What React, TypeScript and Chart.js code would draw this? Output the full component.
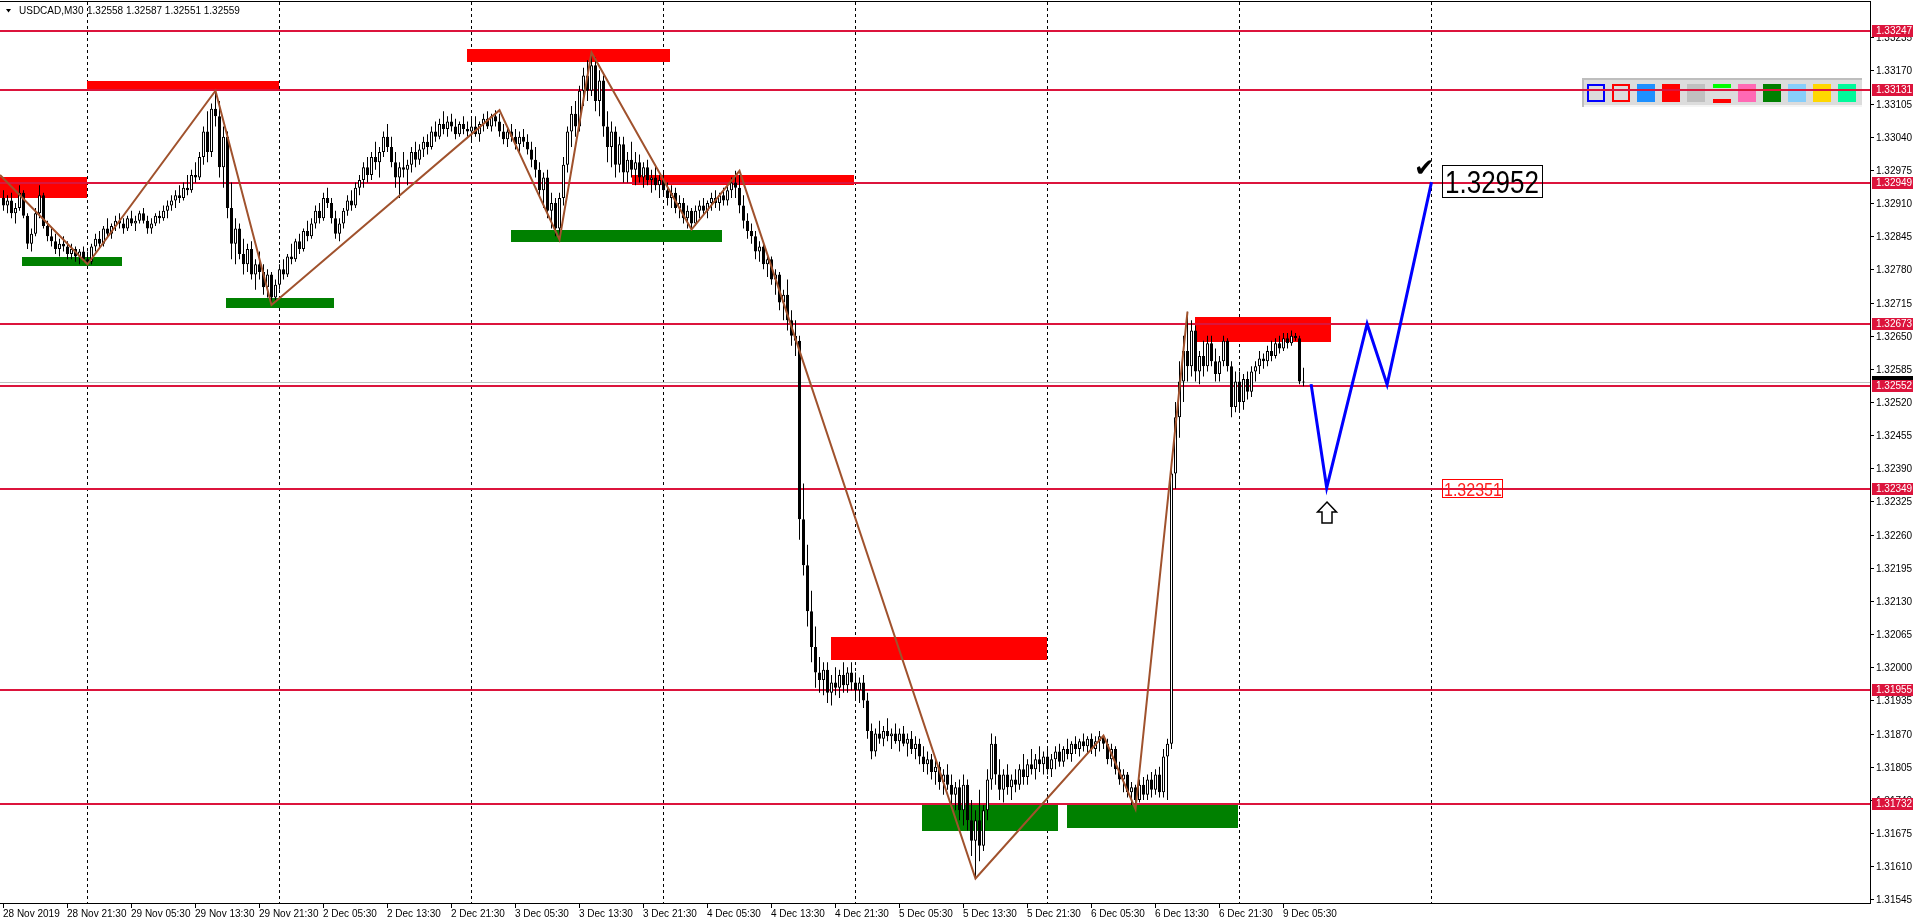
import React, { useEffect, useRef } from 'react';
import { Chart, registerables } from 'chart.js';
Chart.register(...registerables);

type OHLC = [number, number, number, number];

// [open, high, low, close] per M30 bar
const bars28Nov: OHLC[] = [
  [1.32920, 1.32935, 1.32895, 1.32905], [1.32905, 1.32925, 1.32890, 1.32915], [1.32915, 1.32930, 1.32880, 1.32890],
  [1.32890, 1.32910, 1.32870, 1.32900], [1.32900, 1.32945, 1.32895, 1.32930], [1.32930, 1.32935, 1.32880, 1.32885],
  [1.32885, 1.32890, 1.32820, 1.32830], [1.32830, 1.32860, 1.32815, 1.32850], [1.32850, 1.32900, 1.32845, 1.32890],
  [1.32890, 1.32945, 1.32880, 1.32925], [1.32925, 1.32930, 1.32860, 1.32865], [1.32865, 1.32875, 1.32835, 1.32845],
  [1.32845, 1.32860, 1.32825, 1.32835], [1.32835, 1.32850, 1.32810, 1.32820], [1.32820, 1.32840, 1.32805, 1.32830],
  [1.32830, 1.32845, 1.32815, 1.32825], [1.32825, 1.32835, 1.32800, 1.32810], [1.32810, 1.32830, 1.32800, 1.32820],
  [1.32820, 1.32825, 1.32795, 1.32805], [1.32805, 1.32820, 1.32790, 1.32815], [1.32815, 1.32825, 1.32795, 1.32800],
];
const bars29Nov: OHLC[] = [
  [1.32800, 1.32815, 1.32790, 1.32795], [1.32795, 1.32830, 1.32790, 1.32825], [1.32825, 1.32850, 1.32815, 1.32840],
  [1.32840, 1.32855, 1.32820, 1.32830], [1.32830, 1.32865, 1.32825, 1.32860], [1.32860, 1.32880, 1.32845, 1.32850],
  [1.32850, 1.32870, 1.32840, 1.32865], [1.32865, 1.32885, 1.32855, 1.32875], [1.32875, 1.32890, 1.32860, 1.32870],
  [1.32870, 1.32880, 1.32850, 1.32860], [1.32860, 1.32885, 1.32855, 1.32880], [1.32880, 1.32895, 1.32865, 1.32870],
  [1.32870, 1.32885, 1.32855, 1.32875], [1.32875, 1.32895, 1.32870, 1.32890], [1.32890, 1.32900, 1.32870, 1.32875],
  [1.32875, 1.32885, 1.32850, 1.32860], [1.32860, 1.32880, 1.32850, 1.32870], [1.32870, 1.32890, 1.32865, 1.32885],
  [1.32885, 1.32895, 1.32870, 1.32880], [1.32880, 1.32905, 1.32875, 1.32895], [1.32895, 1.32915, 1.32880, 1.32905],
  [1.32905, 1.32925, 1.32895, 1.32915], [1.32915, 1.32935, 1.32900, 1.32925], [1.32925, 1.32945, 1.32910, 1.32920],
  [1.32920, 1.32950, 1.32915, 1.32940], [1.32940, 1.32965, 1.32925, 1.32935], [1.32935, 1.32975, 1.32930, 1.32965],
  [1.32965, 1.32990, 1.32950, 1.32960], [1.32960, 1.33010, 1.32955, 1.33000], [1.33000, 1.33060, 1.32985, 1.33050],
  [1.33050, 1.33090, 1.32990, 1.33010], [1.33010, 1.33105, 1.33000, 1.33095], [1.33095, 1.33130, 1.33060, 1.33080],
  [1.33080, 1.33110, 1.32960, 1.32980], [1.32980, 1.33060, 1.32940, 1.33040], [1.33040, 1.33050, 1.32880, 1.32900],
  [1.32900, 1.32950, 1.32800, 1.32830], [1.32830, 1.32880, 1.32790, 1.32860], [1.32860, 1.32870, 1.32800, 1.32810],
  [1.32810, 1.32840, 1.32770, 1.32790], [1.32790, 1.32830, 1.32775, 1.32820], [1.32820, 1.32835, 1.32760, 1.32770],
  [1.32770, 1.32800, 1.32740, 1.32790], [1.32790, 1.32815, 1.32760, 1.32775], [1.32775, 1.32790, 1.32730, 1.32745],
  [1.32745, 1.32780, 1.32725, 1.32770], [1.32770, 1.32775, 1.32710, 1.32725], [1.32725, 1.32760, 1.32715, 1.32750],
];
const bars2Dec: OHLC[] = [
  [1.32750, 1.32790, 1.32740, 1.32780], [1.32780, 1.32800, 1.32760, 1.32770], [1.32770, 1.32810, 1.32765, 1.32805],
  [1.32805, 1.32830, 1.32790, 1.32800], [1.32800, 1.32840, 1.32795, 1.32835], [1.32835, 1.32850, 1.32810, 1.32820],
  [1.32820, 1.32860, 1.32815, 1.32855], [1.32855, 1.32875, 1.32835, 1.32845], [1.32845, 1.32880, 1.32840, 1.32870],
  [1.32870, 1.32905, 1.32860, 1.32895], [1.32895, 1.32910, 1.32870, 1.32880], [1.32880, 1.32930, 1.32875, 1.32920],
  [1.32920, 1.32940, 1.32900, 1.32910], [1.32910, 1.32920, 1.32870, 1.32880], [1.32880, 1.32895, 1.32840, 1.32850],
  [1.32850, 1.32880, 1.32835, 1.32870], [1.32870, 1.32900, 1.32860, 1.32895], [1.32895, 1.32925, 1.32885, 1.32915],
  [1.32915, 1.32935, 1.32895, 1.32905], [1.32905, 1.32950, 1.32900, 1.32940], [1.32940, 1.32965, 1.32925, 1.32955],
  [1.32955, 1.32990, 1.32940, 1.32980], [1.32980, 1.33000, 1.32950, 1.32965], [1.32965, 1.33010, 1.32955, 1.33000],
  [1.33000, 1.33030, 1.32975, 1.32990], [1.32990, 1.33020, 1.32960, 1.33010], [1.33010, 1.33050, 1.33000, 1.33040],
  [1.33040, 1.33065, 1.33010, 1.33020], [1.33020, 1.33040, 1.32980, 1.32990], [1.32990, 1.33010, 1.32940, 1.32960],
  [1.32960, 1.32990, 1.32920, 1.32980], [1.32980, 1.33010, 1.32960, 1.32975], [1.32975, 1.32995, 1.32945, 1.32985],
  [1.32985, 1.33020, 1.32970, 1.33010], [1.33010, 1.33030, 1.32980, 1.32995], [1.32995, 1.33025, 1.32985, 1.33015],
  [1.33015, 1.33040, 1.33000, 1.33030], [1.33030, 1.33045, 1.33005, 1.33020], [1.33020, 1.33060, 1.33015, 1.33050],
  [1.33050, 1.33070, 1.33030, 1.33040], [1.33040, 1.33075, 1.33035, 1.33065], [1.33065, 1.33090, 1.33045, 1.33055],
  [1.33055, 1.33080, 1.33040, 1.33070], [1.33070, 1.33085, 1.33050, 1.33060], [1.33060, 1.33075, 1.33035, 1.33045],
  [1.33045, 1.33070, 1.33040, 1.33065], [1.33065, 1.33080, 1.33045, 1.33055], [1.33055, 1.33070, 1.33040, 1.33050],
];
const bars3Dec: OHLC[] = [
  [1.33050, 1.33075, 1.33030, 1.33060], [1.33060, 1.33080, 1.33040, 1.33045], [1.33045, 1.33070, 1.33030, 1.33065],
  [1.33065, 1.33085, 1.33050, 1.33075], [1.33075, 1.33090, 1.33055, 1.33060], [1.33060, 1.33085, 1.33050, 1.33080],
  [1.33080, 1.33092, 1.33060, 1.33070], [1.33070, 1.33085, 1.33040, 1.33050], [1.33050, 1.33065, 1.33025, 1.33035],
  [1.33035, 1.33060, 1.33020, 1.33050], [1.33050, 1.33065, 1.33030, 1.33040], [1.33040, 1.33055, 1.33015, 1.33025],
  [1.33025, 1.33050, 1.33010, 1.33040], [1.33040, 1.33055, 1.33020, 1.33030], [1.33030, 1.33045, 1.33005, 1.33015],
  [1.33015, 1.33030, 1.32980, 1.32995], [1.32995, 1.33020, 1.32960, 1.32975], [1.32975, 1.32990, 1.32920, 1.32935],
  [1.32935, 1.32970, 1.32900, 1.32960], [1.32960, 1.32975, 1.32880, 1.32895], [1.32895, 1.32930, 1.32860, 1.32910],
  [1.32910, 1.32920, 1.32845, 1.32860], [1.32860, 1.32930, 1.32838, 1.32920], [1.32920, 1.33000, 1.32905, 1.32985],
  [1.32985, 1.33060, 1.32970, 1.33050], [1.33050, 1.33100, 1.33020, 1.33085], [1.33085, 1.33110, 1.33040, 1.33060],
  [1.33060, 1.33140, 1.33050, 1.33130], [1.33130, 1.33175, 1.33100, 1.33160], [1.33160, 1.33190, 1.33110, 1.33130],
  [1.33130, 1.33205, 1.33120, 1.33180], [1.33180, 1.33195, 1.33090, 1.33110], [1.33110, 1.33170, 1.33080, 1.33150],
  [1.33150, 1.33160, 1.33040, 1.33060], [1.33060, 1.33090, 1.32990, 1.33020], [1.33020, 1.33070, 1.32980, 1.33050],
  [1.33050, 1.33060, 1.32960, 1.32985], [1.32985, 1.33040, 1.32970, 1.33025], [1.33025, 1.33040, 1.32950, 1.32970],
  [1.32970, 1.33010, 1.32950, 1.32995], [1.32995, 1.33030, 1.32960, 1.32975], [1.32975, 1.33010, 1.32945, 1.32990],
  [1.32990, 1.33005, 1.32950, 1.32960], [1.32960, 1.32990, 1.32940, 1.32980], [1.32980, 1.32995, 1.32945, 1.32955],
  [1.32955, 1.32975, 1.32930, 1.32960], [1.32960, 1.32985, 1.32935, 1.32945], [1.32945, 1.32965, 1.32920, 1.32955],
];
const bars4Dec: OHLC[] = [
  [1.32955, 1.32970, 1.32925, 1.32935], [1.32935, 1.32950, 1.32905, 1.32920], [1.32920, 1.32945, 1.32900, 1.32930],
  [1.32930, 1.32940, 1.32890, 1.32900], [1.32900, 1.32925, 1.32880, 1.32910], [1.32910, 1.32920, 1.32870, 1.32880],
  [1.32880, 1.32905, 1.32860, 1.32895], [1.32895, 1.32900, 1.32858, 1.32870], [1.32870, 1.32905, 1.32865, 1.32895],
  [1.32895, 1.32915, 1.32880, 1.32905], [1.32905, 1.32920, 1.32885, 1.32895], [1.32895, 1.32915, 1.32880, 1.32910],
  [1.32910, 1.32930, 1.32895, 1.32920], [1.32920, 1.32935, 1.32900, 1.32910], [1.32910, 1.32930, 1.32895, 1.32925],
  [1.32925, 1.32940, 1.32905, 1.32915], [1.32915, 1.32945, 1.32905, 1.32935], [1.32935, 1.32960, 1.32920, 1.32950],
  [1.32950, 1.32973, 1.32920, 1.32940], [1.32940, 1.32965, 1.32890, 1.32905], [1.32905, 1.32925, 1.32860, 1.32875],
  [1.32875, 1.32890, 1.32840, 1.32855], [1.32855, 1.32870, 1.32830, 1.32845], [1.32845, 1.32855, 1.32800, 1.32815],
  [1.32815, 1.32835, 1.32795, 1.32825], [1.32825, 1.32830, 1.32780, 1.32790], [1.32790, 1.32810, 1.32765, 1.32800],
  [1.32800, 1.32805, 1.32750, 1.32760], [1.32760, 1.32780, 1.32730, 1.32770], [1.32770, 1.32775, 1.32700, 1.32715],
  [1.32715, 1.32740, 1.32680, 1.32730], [1.32730, 1.32760, 1.32660, 1.32680], [1.32680, 1.32700, 1.32630, 1.32650],
  [1.32650, 1.32680, 1.32610, 1.32640], [1.32640, 1.32650, 1.32250, 1.32290], [1.32290, 1.32360, 1.32180, 1.32200],
  [1.32200, 1.32240, 1.32080, 1.32110], [1.32110, 1.32150, 1.32010, 1.32040], [1.32040, 1.32080, 1.31960, 1.31990],
  [1.31990, 1.32020, 1.31950, 1.31975], [1.31975, 1.32010, 1.31945, 1.31995], [1.31995, 1.32010, 1.31930, 1.31950],
  [1.31950, 1.31985, 1.31925, 1.31970], [1.31970, 1.32000, 1.31945, 1.31960], [1.31960, 1.31995, 1.31940, 1.31985],
  [1.31985, 1.32010, 1.31950, 1.31965], [1.31965, 1.32000, 1.31950, 1.31990], [1.31990, 1.32010, 1.31955, 1.31970],
];
const bars5Dec: OHLC[] = [
  [1.31970, 1.31990, 1.31940, 1.31955], [1.31955, 1.31980, 1.31930, 1.31970], [1.31970, 1.31985, 1.31920, 1.31935],
  [1.31935, 1.31950, 1.31860, 1.31875], [1.31875, 1.31890, 1.31820, 1.31835], [1.31835, 1.31880, 1.31825, 1.31870],
  [1.31870, 1.31895, 1.31850, 1.31860], [1.31860, 1.31885, 1.31845, 1.31875], [1.31875, 1.31900, 1.31855, 1.31865],
  [1.31865, 1.31880, 1.31840, 1.31870], [1.31870, 1.31890, 1.31850, 1.31855], [1.31855, 1.31880, 1.31835, 1.31870],
  [1.31870, 1.31885, 1.31845, 1.31850], [1.31850, 1.31870, 1.31825, 1.31860], [1.31860, 1.31875, 1.31830, 1.31840],
  [1.31840, 1.31865, 1.31820, 1.31850], [1.31850, 1.31860, 1.31810, 1.31825], [1.31825, 1.31845, 1.31795, 1.31810],
  [1.31810, 1.31835, 1.31790, 1.31820], [1.31820, 1.31830, 1.31780, 1.31795], [1.31795, 1.31820, 1.31770, 1.31805],
  [1.31805, 1.31815, 1.31760, 1.31775], [1.31775, 1.31800, 1.31750, 1.31790], [1.31790, 1.31810, 1.31760, 1.31770],
  [1.31770, 1.31790, 1.31730, 1.31750], [1.31750, 1.31775, 1.31720, 1.31765], [1.31765, 1.31780, 1.31700, 1.31720],
  [1.31720, 1.31790, 1.31690, 1.31770], [1.31770, 1.31780, 1.31680, 1.31700], [1.31700, 1.31740, 1.31630, 1.31660],
  [1.31660, 1.31720, 1.31586, 1.31700], [1.31700, 1.31760, 1.31620, 1.31650], [1.31650, 1.31730, 1.31640, 1.31720],
  [1.31720, 1.31800, 1.31700, 1.31780], [1.31780, 1.31870, 1.31760, 1.31850], [1.31850, 1.31865, 1.31770, 1.31790],
  [1.31790, 1.31820, 1.31740, 1.31760], [1.31760, 1.31800, 1.31735, 1.31790], [1.31790, 1.31810, 1.31750, 1.31765],
  [1.31765, 1.31790, 1.31740, 1.31780], [1.31780, 1.31800, 1.31755, 1.31770], [1.31770, 1.31810, 1.31760, 1.31800],
  [1.31800, 1.31830, 1.31770, 1.31785], [1.31785, 1.31820, 1.31770, 1.31810], [1.31810, 1.31840, 1.31790, 1.31800],
  [1.31800, 1.31830, 1.31780, 1.31820], [1.31820, 1.31845, 1.31795, 1.31810], [1.31810, 1.31835, 1.31790, 1.31825],
];
const bars6Dec: OHLC[] = [
  [1.31825, 1.31840, 1.31790, 1.31800], [1.31800, 1.31830, 1.31785, 1.31820], [1.31820, 1.31845, 1.31800, 1.31835],
  [1.31835, 1.31850, 1.31805, 1.31815], [1.31815, 1.31845, 1.31805, 1.31840], [1.31840, 1.31860, 1.31820, 1.31830],
  [1.31830, 1.31855, 1.31815, 1.31850], [1.31850, 1.31865, 1.31830, 1.31840], [1.31840, 1.31860, 1.31825, 1.31855],
  [1.31855, 1.31870, 1.31835, 1.31845], [1.31845, 1.31865, 1.31830, 1.31860], [1.31860, 1.31870, 1.31830, 1.31840],
  [1.31840, 1.31865, 1.31825, 1.31855], [1.31855, 1.31875, 1.31835, 1.31865], [1.31865, 1.31866, 1.31840, 1.31850],
  [1.31850, 1.31860, 1.31810, 1.31820], [1.31820, 1.31850, 1.31805, 1.31840], [1.31840, 1.31845, 1.31790, 1.31800],
  [1.31800, 1.31815, 1.31770, 1.31780], [1.31780, 1.31800, 1.31755, 1.31790], [1.31790, 1.31795, 1.31745, 1.31755],
  [1.31755, 1.31775, 1.31730, 1.31765], [1.31765, 1.31770, 1.31722, 1.31740], [1.31740, 1.31780, 1.31735, 1.31770],
  [1.31770, 1.31785, 1.31740, 1.31750], [1.31750, 1.31790, 1.31740, 1.31780], [1.31780, 1.31795, 1.31745, 1.31760],
  [1.31760, 1.31800, 1.31750, 1.31790], [1.31790, 1.31805, 1.31745, 1.31755], [1.31755, 1.31840, 1.31745, 1.31825],
  [1.31825, 1.31860, 1.31740, 1.31850], [1.31850, 1.32400, 1.31840, 1.32380], [1.32380, 1.32520, 1.32350, 1.32490],
  [1.32490, 1.32600, 1.32450, 1.32560], [1.32560, 1.32650, 1.32520, 1.32620], [1.32620, 1.32697, 1.32560, 1.32590],
  [1.32590, 1.32680, 1.32570, 1.32660], [1.32660, 1.32670, 1.32560, 1.32580], [1.32580, 1.32620, 1.32555, 1.32610],
  [1.32610, 1.32640, 1.32570, 1.32590], [1.32590, 1.32650, 1.32580, 1.32635], [1.32635, 1.32650, 1.32590, 1.32600],
  [1.32600, 1.32625, 1.32560, 1.32575], [1.32575, 1.32610, 1.32560, 1.32600], [1.32600, 1.32650, 1.32590, 1.32640],
  [1.32640, 1.32645, 1.32580, 1.32590], [1.32590, 1.32600, 1.32490, 1.32510], [1.32510, 1.32580, 1.32500, 1.32560],
];
const bars9Dec: OHLC[] = [
  [1.32560, 1.32580, 1.32500, 1.32520], [1.32520, 1.32575, 1.32505, 1.32565], [1.32565, 1.32580, 1.32525, 1.32540],
  [1.32540, 1.32590, 1.32530, 1.32580], [1.32580, 1.32600, 1.32560, 1.32590], [1.32590, 1.32620, 1.32575, 1.32605],
  [1.32605, 1.32615, 1.32585, 1.32600], [1.32600, 1.32630, 1.32590, 1.32620], [1.32620, 1.32640, 1.32600, 1.32610],
  [1.32610, 1.32645, 1.32605, 1.32635], [1.32635, 1.32650, 1.32615, 1.32625], [1.32625, 1.32655, 1.32620, 1.32645],
  [1.32645, 1.32655, 1.32625, 1.32635], [1.32635, 1.32660, 1.32630, 1.32650], [1.32650, 1.32655, 1.32640, 1.32645],
  [1.32645, 1.32650, 1.32555, 1.32560], [1.32558, 1.32587, 1.32551, 1.32559],
];

const timeTickIndex = [0, 16, 32, 48, 64, 80, 96, 112, 128, 144, 160, 176, 192, 208, 224, 240, 256, 272, 288, 304, 320];
const timeTickLabels = [
  '28 Nov 2019', '28 Nov 21:30', '29 Nov 05:30', '29 Nov 13:30', '29 Nov 21:30', '2 Dec 05:30', '2 Dec 13:30',
  '2 Dec 21:30', '3 Dec 05:30', '3 Dec 13:30', '3 Dec 21:30', '4 Dec 05:30', '4 Dec 13:30', '4 Dec 21:30',
  '5 Dec 05:30', '5 Dec 13:30', '5 Dec 21:30', '6 Dec 05:30', '6 Dec 13:30', '6 Dec 21:30', '9 Dec 05:30',
];
const priceTicks = [
  1.33235, 1.33170, 1.33105, 1.33040, 1.32975, 1.32910, 1.32845, 1.32780, 1.32715, 1.32650, 1.32585, 1.32520, 1.32455,
  1.32390, 1.32325, 1.32260, 1.32195, 1.32130, 1.32065, 1.32000, 1.31935, 1.31870, 1.31805, 1.31740, 1.31675, 1.31610, 1.31545,
];
const levelPrices = [1.33247, 1.33131, 1.32949, 1.32673, 1.32552, 1.32349, 1.31955, 1.31732];
const bidPrice = 1.32559;
const daySeparators = [21, 69, 117, 165, 213, 261, 309, 357];

// [startBar, endBar, lowPrice, highPrice]
const redZones = [
  [-0.875, 20.9, 1.32920, 1.32961], [20.9, 68.9, 1.33133, 1.33149], [115.9, 166.6, 1.33186, 1.33212],
  [157.1, 212.6, 1.32945, 1.32965], [206.9, 260.9, 1.32014, 1.32059], [297.9, 331.9, 1.32637, 1.32686],
];
const greenZones = [
  [4.6, 29.6, 1.32786, 1.32804], [55.6, 82.6, 1.32704, 1.32724], [126.9, 179.6, 1.32833, 1.32857],
  [229.6, 263.6, 1.31679, 1.31732], [265.9, 308.6, 1.31685, 1.31732],
];

const zigzagBar = [-0.875, 21, 53, 67, 124, 139, 147, 172, 184, 243, 275, 283, 296];
const zigzagPrice = [1.32965, 1.32790, 1.33130, 1.32710, 1.33092, 1.32838, 1.33205, 1.32858, 1.32973, 1.31586, 1.31866, 1.31722, 1.32697];

const projBar = [326.9, 330.8, 340.9, 345.9, 357];
const projPrice = [1.32555, 1.32352, 1.32673, 1.32554, 1.32951];

const targetLabel = '1.32952';
const lowLabel = '1.32351';
const headerSymbol = 'USDCAD,M30';
const headerValues = '1.32558 1.32587 1.32551 1.32559';

const toolColors = ['#0000FF', '#FF0000', '#1E90FF', '#FF0000', '#C0C0C0', 'mixed', '#FF69B4', '#008000', '#87CEFA', '#FFD700', '#00FA9A'];

const FONT = '"Liberation Sans", Arial, sans-serif';

const mt4Plugin = {
  id: 'mt4',
  beforeDatasetsDraw(chart: any) {
    const { ctx, scales } = chart;
    const x = scales.x, y = scales.y;
    ctx.save();
    ctx.strokeStyle = '#000';
    ctx.lineWidth = 1;
    ctx.setLineDash([3, 3]);
    for (const d of daySeparators) {
      const px = Math.floor(x.getPixelForValue(d)) + 0.5;
      ctx.beginPath();
      ctx.moveTo(px, 2);
      ctx.lineTo(px, 903);
      ctx.stroke();
    }
    ctx.setLineDash([]);
    const drawZone = (z: number[], color: string) => {
      const x0 = Math.round(x.getPixelForValue(z[0]));
      const x1 = Math.round(x.getPixelForValue(z[1]));
      const y0 = Math.round(y.getPixelForValue(z[3]));
      const y1 = Math.round(y.getPixelForValue(z[2]));
      ctx.fillStyle = color;
      ctx.fillRect(x0, y0, x1 - x0, y1 - y0);
    };
    redZones.forEach((z) => drawZone(z, '#FF0000'));
    greenZones.forEach((z) => drawZone(z, '#008000'));
    // toolbar panel
    ctx.fillStyle = '#DCDCDC';
    ctx.fillRect(1582, 78, 280, 29);
    ctx.fillStyle = '#BEBEBE';
    ctx.fillRect(1582, 78, 280, 2);
    ctx.fillRect(1582, 78, 2, 29);
    ctx.fillStyle = '#F4F4F4';
    ctx.fillRect(1584, 105, 278, 2);
    toolColors.forEach((c, k) => {
      const bx = 1587 + Math.round(k * 25.1);
      if (k < 2) {
        ctx.strokeStyle = c;
        ctx.lineWidth = 2;
        ctx.strokeRect(bx + 1, 85, 16, 16);
      } else if (c === 'mixed') {
        ctx.fillStyle = '#00FF00';
        ctx.fillRect(bx, 84, 18, 4);
        ctx.fillStyle = '#FF0000';
        ctx.fillRect(bx, 99, 18, 4);
      } else {
        ctx.fillStyle = c;
        ctx.fillRect(bx, 84, 18, 18);
      }
    });
    ctx.fillStyle = '#C0C0C0';
    ctx.fillRect(0, Math.round(y.getPixelForValue(bidPrice)), 1870, 1);
    ctx.fillStyle = '#DC143C';
    levelPrices.forEach((p) => {
      const py = Math.round(y.getPixelForValue(p));
      ctx.fillRect(0, py - 1, 1870, 2);
    });
    ctx.strokeStyle = '#000';
    ctx.lineWidth = 1;
    ctx.strokeRect(1442.5, 165.5, 100, 32);
    ctx.save();
    ctx.translate(1445, 193);
    ctx.scale(1, 1.18);
    ctx.fillStyle = '#000';
    ctx.font = '26px ' + FONT;
    ctx.textBaseline = 'alphabetic';
    ctx.fillText(targetLabel, 0, 0);
    ctx.restore();
    ctx.strokeStyle = '#FF0000';
    ctx.strokeRect(1442.5, 479.5, 60, 18);
    ctx.save();
    ctx.translate(1444, 495.5);
    ctx.scale(1, 1.1);
    ctx.fillStyle = '#FF2020';
    ctx.font = '16px ' + FONT;
    ctx.fillText(lowLabel, 0, 0);
    ctx.restore();
    ctx.fillStyle = '#000';
    ctx.font = 'bold 25px "DejaVu Sans", sans-serif';
    ctx.fillText('\u2714', 1414, 176);
    ctx.beginPath();
    ctx.moveTo(1327, 502);
    ctx.lineTo(1336.5, 512);
    ctx.lineTo(1332, 512);
    ctx.lineTo(1332, 523);
    ctx.lineTo(1322, 523);
    ctx.lineTo(1322, 512);
    ctx.lineTo(1317.5, 512);
    ctx.closePath();
    ctx.fillStyle = '#FFFFFF';
    ctx.fill();
    ctx.strokeStyle = '#000';
    ctx.lineWidth = 1.5;
    ctx.stroke();
    ctx.restore();
  },
  afterDraw(chart: any) {
    const { ctx, scales } = chart;
    const x = scales.x, y = scales.y;
    ctx.save();
    ctx.fillStyle = '#000';
    ctx.fillRect(0, 1, 1871, 1);
    ctx.fillRect(0, 903, 1871, 1);
    ctx.fillRect(1870, 1, 1, 903);
    ctx.font = '10px ' + FONT;
    ctx.textBaseline = 'middle';
    ctx.textAlign = 'left';
    priceTicks.forEach((p) => {
      const py = Math.round(y.getPixelForValue(p));
      ctx.fillRect(1871, py, 3, 1);
      ctx.fillText(p.toFixed(5), 1876, py + 1);
    });
    timeTickIndex.forEach((ti, k) => {
      const px = Math.floor(x.getPixelForValue(ti));
      ctx.fillRect(px, 904, 1, 4);
      ctx.fillText(timeTickLabels[k], px, 914);
    });
    const by = y.getPixelForValue(bidPrice);
    ctx.fillStyle = '#000';
    ctx.fillRect(1872, Math.round(by) - 6, 41, 12);
    levelPrices.forEach((p) => {
      const py = Math.round(y.getPixelForValue(p));
      ctx.fillStyle = '#DC143C';
      ctx.fillRect(1872, py - 6, 41, 12);
      ctx.fillStyle = '#FFFFFF';
      ctx.fillText(p.toFixed(5), 1876, py + 0.5);
    });
    ctx.fillStyle = '#000';
    ctx.beginPath();
    ctx.moveTo(6, 9);
    ctx.lineTo(11, 9);
    ctx.lineTo(8.5, 12.5);
    ctx.closePath();
    ctx.fill();
    ctx.fillText(headerSymbol, 19, 11);
    ctx.fillText(headerValues, 87, 11);
    ctx.restore();
  },
};

export default function App() {
  const ref = useRef<HTMLCanvasElement | null>(null);
  useEffect(() => {
    document.body.style.margin = '0';
    document.body.style.background = '#FFFFFF';
    const canvas = ref.current;
    if (!canvas) return;
    const bars = [...bars28Nov, ...bars29Nov, ...bars2Dec, ...bars3Dec, ...bars4Dec, ...bars5Dec, ...bars6Dec, ...bars9Dec];
    const wicks = bars.map((b, i) => ({ x: i, y: [b[2], b[1]] }));
    const bodies = bars.map((b, i) => ({ x: i, y: [Math.min(b[0], b[3]), Math.max(b[0], b[3])] }));
    const bodyColors = bars.map((b) => (b[3] >= b[0] ? '#FFFFFF' : '#000000'));
    const zigzag = zigzagBar.map((v, k) => ({ x: v, y: zigzagPrice[k] }));
    const proj = projBar.map((v, k) => ({ x: v, y: projPrice[k] }));
    const chart = new Chart(canvas, {
      type: 'bar',
      data: {
        datasets: [
          { type: 'line', data: zigzag, borderColor: '#A0522D', borderWidth: 2, pointRadius: 0, tension: 0, order: 0 } as any,
          { type: 'line', data: proj, borderColor: '#0000FF', borderWidth: 3, pointRadius: 0, tension: 0, order: 0 } as any,
          {
            type: 'bar', data: bodies, backgroundColor: bodyColors, borderColor: '#000000', borderWidth: 1,
            barThickness: 3, grouped: false, borderSkipped: false, inflateAmount: 0, minBarLength: 1, order: 1,
          } as any,
          {
            type: 'bar', data: wicks, backgroundColor: '#000000', borderWidth: 0, barThickness: 1,
            grouped: false, inflateAmount: 0, order: 2,
          } as any,
        ],
      },
      options: {
        animation: false,
        responsive: false,
        maintainAspectRatio: false,
        devicePixelRatio: 1,
        events: [],
        layout: { padding: { top: 2, left: 0, right: 45, bottom: 20 } },
        plugins: { legend: { display: false }, tooltip: { enabled: false } },
        scales: {
          x: { type: 'linear', min: -0.875, max: 466.875, offset: false, display: false },
          y: { type: 'linear', min: 1.31538, max: 1.33304, display: false },
        },
      } as any,
      plugins: [mt4Plugin],
    });
    return () => chart.destroy();
  }, []);
  return <canvas ref={ref} width={1916} height={923} style={{ display: 'block', background: '#FFFFFF' }} />;
}
